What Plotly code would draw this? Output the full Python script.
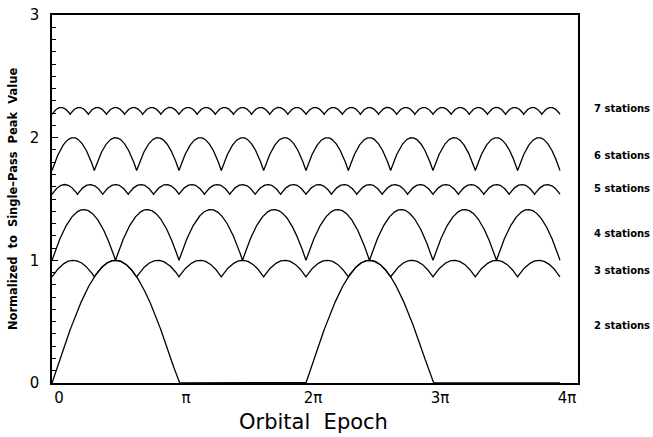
import numpy as np
import plotly.graph_objects as go

# ---- data ----
station_counts = [2, 3, 4, 5, 6, 7]
station_labels = ["2 stations", "3 stations", "4 stations",
                  "5 stations", "6 stations", "7 stations"]
label_y = [0.47, 0.92, 1.22, 1.585, 1.855, 2.235]
x_tick_vals = [0, np.pi, 2 * np.pi, 3 * np.pi, 4 * np.pi]
x_tick_text = ["0", "\u03c0", "2\u03c0", "3\u03c0", "4\u03c0"]
y_tick_vals = [0, 1, 2, 3]
y_tick_text = ["0", "1", "2", "3"]
epoch_end = 4 * np.pi          # curves run 0..4π
x_axis_end = 4.142 * np.pi     # frame extends a little past 4π
samples = 3361

epoch = np.linspace(0, epoch_end, samples)


def coverage(n, t):
    """Sum of single-pass (half-wave) responses of n stations."""
    if n == 2:
        return np.maximum(np.sin(t), 0.0)
    tot = np.zeros_like(t)
    for k in range(n):
        tot += np.maximum(np.sin(t - 2 * np.pi * k / n), 0.0)
    return tot


fig = go.Figure()
for n in station_counts:
    fig.add_trace(go.Scatter(x=epoch, y=coverage(n, epoch), mode="lines",
                             line=dict(color="black", width=1.3),
                             showlegend=False, hoverinfo="skip"))

for txt, yv in zip(station_labels, label_y):
    fig.add_annotation(x=1.026, xref="paper", y=yv, yref="y", text=txt,
                       showarrow=False, xanchor="left", yanchor="middle",
                       font=dict(family="DejaVu Sans", size=10, color="black",
                                 weight="bold"))

fig.add_annotation(x=0.498, xref="paper", y=-0.105, yref="paper",
                   text="Orbital\u00a0 Epoch", showarrow=False,
                   xanchor="center", yanchor="middle",
                   font=dict(family="DejaVu Sans", size=21, color="black"))

fig.add_annotation(x=-0.074, xref="paper", y=0.5, yref="paper",
                   text="Normalized\u00a0 to\u00a0 Single\u2013Pass\u00a0 Peak\u00a0 Value",
                   textangle=-90, showarrow=False,
                   xanchor="center", yanchor="middle",
                   font=dict(family="DejaVu Sans", size=11.5, color="black",
                             weight="bold"))

fig.update_xaxes(range=[0, x_axis_end], tickvals=x_tick_vals, ticktext=x_tick_text,
                 showgrid=False, zeroline=False, showline=True, linecolor="black",
                 linewidth=1.5, mirror=True, ticks="", ticklabelshift=7,
                 ticklabelstandoff=0, automargin=False, ticklabeloverflow="allow",
                 tickfont=dict(family="DejaVu Sans", size=15, color="black"))
fig.update_yaxes(range=[0, 3], tickvals=y_tick_vals, ticktext=y_tick_text,
                 showgrid=False, zeroline=False, showline=True, linecolor="black",
                 linewidth=1.5, mirror=True, ticks="inside", ticklen=6,
                 tickcolor="black", tickwidth=1, ticklabelstandoff=8,
                 automargin=False, ticklabeloverflow="allow",
                 minor=dict(dtick=0.1, ticks="inside", ticklen=4,
                            tickcolor="black", tickwidth=1, showgrid=False),
                 tickfont=dict(family="DejaVu Sans", size=15, color="black"))

fig.update_layout(width=653, height=437, plot_bgcolor="white", paper_bgcolor="white",
                  margin=dict(l=52, r=75, t=15, b=54))

# remove the page's default body margin so the figure sits at the window corner
fig.write_html("out.html", config={"displayModeBar": False},
               post_script="document.body.style.margin='0';")
